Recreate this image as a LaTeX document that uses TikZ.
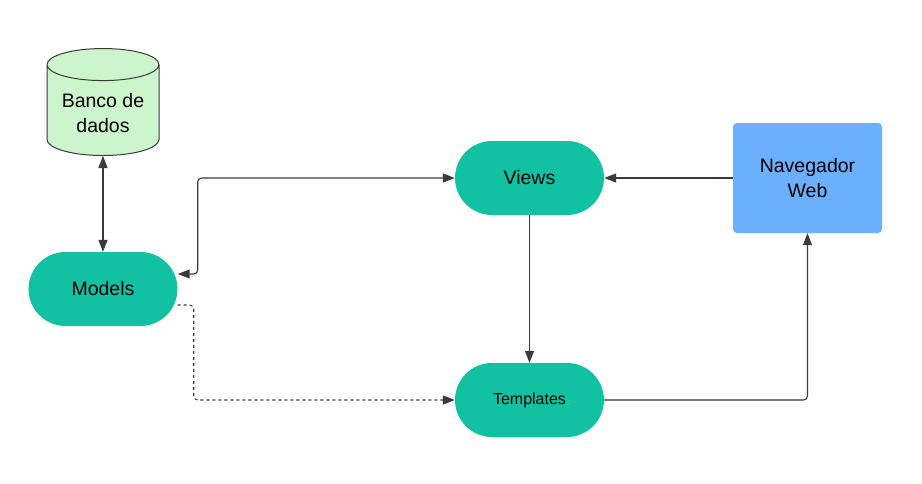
\documentclass[tikz,border=0pt]{standalone}
\usepackage{fontspec}
\setmainfont{Liberation Sans}
\usetikzlibrary{shapes.geometric,arrows.meta}
\definecolor{verdebd}{HTML}{CCF5CB}
\definecolor{verdeapp}{HTML}{10C2A2}
\definecolor{azulweb}{HTML}{6BAFFF}
\definecolor{linha}{HTML}{3A3A3A}

\begin{document}
\begin{tikzpicture}[x=1pt,y=-1pt, >={Triangle[length=12pt,width=9pt]},
    modulo/.style={rectangle, fill=verdeapp, minimum width=149pt, minimum height=74pt, rounded corners=37pt, font=\fontsize{19.5}{24}\selectfont},
    conn/.style={draw=linha, line width=1.1pt, ->}]
\useasboundingbox (0,0) rectangle (922,483);
\node[cylinder, shape border rotate=90, draw=linha, line width=1pt, fill=verdebd, minimum height=107pt, minimum width=112pt, aspect=0.36, align=center, font=\fontsize{19.5}{25}\selectfont] (banco) at (103,113) {Banco de\\dados};
\node[modulo] (models) at (103,289) {Models};
\node[modulo] (views) at (529.5,178) {Views};
\node[modulo, font=\fontsize{16}{20}\selectfont] (templates) at (529.5,400) {Templates};
\node[rectangle, fill=azulweb, rounded corners=4pt, minimum width=149pt, minimum height=110pt, align=center, font=\fontsize{19.5}{25}\selectfont] (navegador) at (807.5,178) {Navegador\\Web};
\draw[conn, <->] (banco.south) -- (models.north);
\draw[conn, <->, rounded corners=4pt] ([yshift=15pt]models.east) -- ++(20,0) |- (views.west);
\draw[conn, dashed, rounded corners=4pt] ([yshift=-16pt]models.east) -- ++(16,0) |- (templates.west);
\draw[conn] (navegador.west) -- (views.east);
\draw[conn] (views.south) -- (templates.north);
\draw[conn, rounded corners=4pt] (templates.east) -| (navegador.south);
\end{tikzpicture}
\end{document}
